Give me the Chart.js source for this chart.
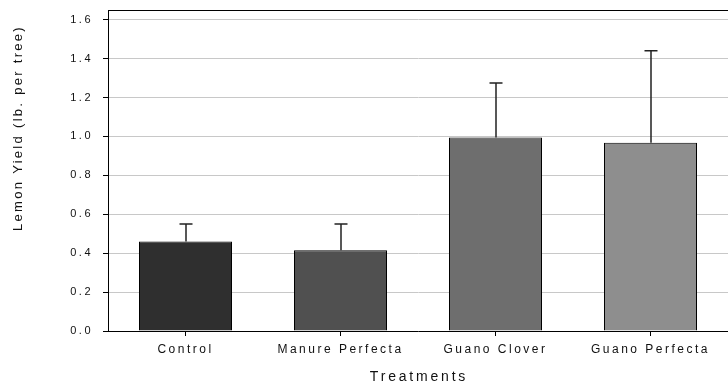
<!DOCTYPE html>
<html>
<head>
    <title>Lemon Yield by Treatment</title>
    <script src="https://cdn.jsdelivr.net/npm/chart.js"></script>
    <style>
        body { margin: 0; background: #fff; }
        #yieldChart { display: block; }
    </style>
</head>
<body>
    <canvas id="yieldChart" width="728" height="391"></canvas>
    <script>
        const treatments = ['Control', 'Manure Perfecta', 'Guano Clover', 'Guano Perfecta'];
        const yieldMeans = [0.46, 0.415, 0.995, 0.967];
        const yieldErrors = [0.09, 0.135, 0.28, 0.473];
        const barColors = ['#2f2f2f', '#505050', '#6e6e6e', '#8e8e8e'];
        const yTicks = [0, 0.2, 0.4, 0.6, 0.8, 1.0, 1.2, 1.4, 1.6];
        const yMax = 1.65;
        const FONT = 'Arial, "Liberation Sans", sans-serif';

        // spaced-out lettering for tick labels
        const letterSpacing = {
            id: 'letterSpacing',
            beforeLayout(chart) { chart.ctx.letterSpacing = '2.5px'; },
            beforeDraw(chart) { chart.ctx.letterSpacing = '2.5px'; }
        };

        // top frame line and both axis titles
        const frameAndTitles = {
            id: 'frameAndTitles',
            afterDraw(chart) {
                const { ctx, chartArea } = chart;
                ctx.save();
                ctx.strokeStyle = '#000';
                ctx.lineWidth = 1;
                ctx.beginPath();
                ctx.moveTo(chartArea.left, chartArea.top + 0.5);
                ctx.lineTo(chartArea.right, chartArea.top + 0.5);
                ctx.stroke();

                ctx.fillStyle = '#111';
                ctx.textAlign = 'center';
                ctx.textBaseline = 'middle';

                ctx.font = '14px ' + FONT;
                ctx.letterSpacing = '2.8px';
                ctx.fillText('Treatments', 419, 377);

                ctx.font = '13px ' + FONT;
                ctx.letterSpacing = '2.3px';
                ctx.translate(18, 128);
                ctx.rotate(-Math.PI / 2);
                ctx.fillText('Lemon Yield (lb. per tree)', 0, 0);
                ctx.restore();
            }
        };

        // error bars: stem up from each bar top with a short cap
        const errorBars = {
            id: 'errorBars',
            afterDatasetsDraw(chart) {
                const { ctx } = chart;
                const y = chart.scales.y;
                const meta = chart.getDatasetMeta(0);
                ctx.save();
                ctx.strokeStyle = '#222';
                ctx.lineWidth = 1.5;
                meta.data.forEach((bar, i) => {
                    const top = y.getPixelForValue(yieldMeans[i] + yieldErrors[i]);
                    const x = Math.round(bar.x);
                    ctx.beginPath();
                    ctx.moveTo(x, bar.y);
                    ctx.lineTo(x, top);
                    ctx.moveTo(x - 6.5, top);
                    ctx.lineTo(x + 6.5, top);
                    ctx.stroke();
                });
                ctx.restore();
            }
        };

        const ctx = document.getElementById('yieldChart').getContext('2d');
        new Chart(ctx, {
            type: 'bar',
            data: {
                labels: treatments,
                datasets: [{
                    data: yieldMeans,
                    backgroundColor: barColors,
                    borderColor: '#000',
                    borderWidth: 1,
                    barPercentage: 0.6,
                    categoryPercentage: 1.0
                }]
            },
            options: {
                responsive: false,
                animation: false,
                devicePixelRatio: 1,
                layout: { padding: { top: 10, right: 0, bottom: 0, left: 0 } },
                plugins: {
                    legend: { display: false },
                    tooltip: { enabled: false }
                },
                scales: {
                    x: {
                        grid: {
                            offset: false,
                            drawOnChartArea: false,
                            tickColor: '#000',
                            tickLength: 5
                        },
                        border: { color: '#000', width: 1 },
                        ticks: {
                            color: '#111',
                            font: { family: FONT, size: 12 },
                            padding: 6,
                            maxRotation: 0,
                            autoSkip: false
                        },
                        afterFit(scale) { scale.height = 60; }
                    },
                    y: {
                        min: 0,
                        max: yMax,
                        grid: {
                            color: '#c8c8c8',
                            tickColor: '#000',
                            tickLength: 5
                        },
                        border: { color: '#000', width: 1 },
                        ticks: {
                            color: '#111',
                            font: { family: FONT, size: 11 },
                            padding: 10,
                            callback: v => v.toFixed(1)
                        },
                        afterBuildTicks(scale) {
                            scale.ticks = yTicks.map(v => ({ value: v }));
                        },
                        afterFit(scale) {
                            scale.width = 108;
                            scale.paddingTop = 0;
                            scale.paddingBottom = 0;
                        }
                    }
                }
            },
            plugins: [letterSpacing, errorBars, frameAndTitles]
        });
    </script>
</body>
</html>
